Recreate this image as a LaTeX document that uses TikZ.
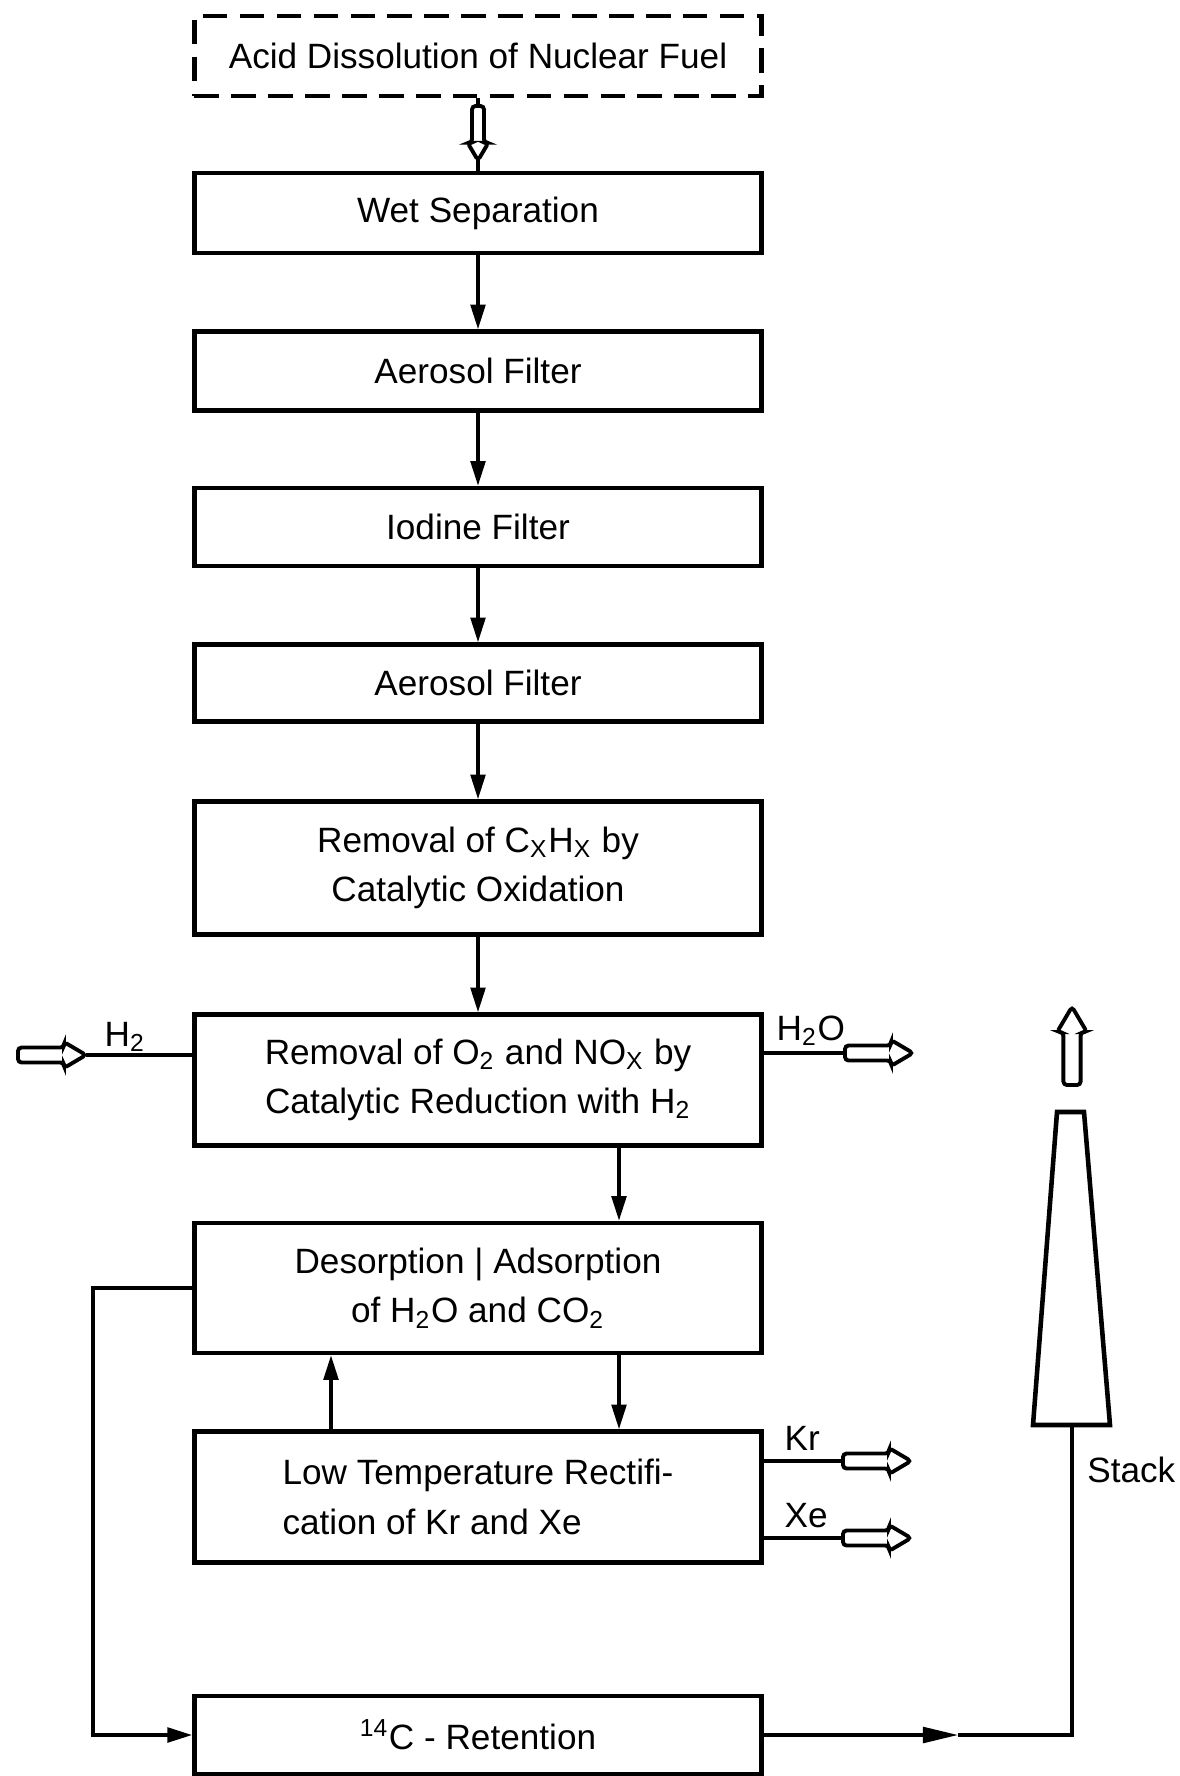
\documentclass[tikz,border=0pt]{standalone}
\usepackage{fontspec}
\setmainfont{Liberation Sans}
\usepackage{tikz}
\usetikzlibrary{arrows.meta, positioning, calc}

\begin{document}
\begin{tikzpicture}[x=0.01cm, y=-0.01cm,
    >={Triangle[length=7pt, width=4.2pt]},
    font=\fontsize{10}{14}\selectfont,
    unit/.style={draw, line width=1.3pt, minimum width=5.67cm,
                 inner sep=2pt, align=center},
    feed/.style={line width=0.9pt},
    lbl/.style={anchor=base west, inner sep=0pt},
    pics/hollow/.style={code={
      \draw[line width=1.1pt, rounded corners=1pt]
        (0,-7.5) -- (46,-7.5) -- (46,-13) -- (68,0) -- (46,13)
        -- (46,7.5) -- (0,7.5) -- cycle;
      \coordinate (-tail) at (0,0);
      \coordinate (-tip) at (68,0);
    }}]
  \useasboundingbox (0,0) rectangle (1180,1776);

  % process chain
  \node[unit, dash pattern=on 7pt off 3.5pt, minimum height=0.80cm]
    (acid) at (478,56) {Acid Dissolution of Nuclear Fuel};
  \node[unit, minimum height=0.80cm] (wet) at (478,213) {Wet Separation};
  \node[unit, minimum height=0.79cm] (aer1) at (478,371) {Aerosol Filter};
  \node[unit, minimum height=0.78cm] (iod) at (478,527) {Iodine Filter};
  \node[unit, minimum height=0.77cm] (aer2) at (478,683) {Aerosol Filter};
  \node[unit, minimum height=1.33cm] (cxhx) at (478,868)
    {Removal of C\textsubscript{X}H\textsubscript{X} by\\Catalytic Oxidation};
  \node[unit, minimum height=1.31cm] (red) at (478,1080)
    {Removal of O\textsubscript{2} and NO\textsubscript{X} by\\
     Catalytic Reduction with H\textsubscript{2}};
  \node[unit, minimum height=1.30cm] (des) at (478,1288)
    {Desorption | Adsorption\\of H\textsubscript{2}O and CO\textsubscript{2}};
  \node[unit, minimum height=1.31cm, align=left] (ltr) at (478,1497)
    {Low Temperature Rectifi-\\cation of Kr and Xe};
  \node[unit, minimum height=0.78cm] (c14) at (478,1735)
    {\textsuperscript{14}C - Retention};

  % feed from dissolver
  \pic[rotate=-90, scale=0.8] (feedin) at (478,106) {hollow};
  \draw[feed] (acid.south) -- (feedin-tail);
  \draw[feed] (feedin-tip) -- (wet.north);

  \foreach \a/\b in {wet/aer1, aer1/iod, iod/aer2, aer2/cxhx, cxhx/red}
    \draw[feed, ->] (\a) -- (\b);

  \coordinate (dcol) at (619,0);
  \coordinate (ucol) at (331,0);
  \draw[feed, ->] (red.south -| dcol) -- (des.north -| dcol);
  \draw[feed, ->] (des.south -| dcol) -- (ltr.north -| dcol);
  \draw[feed, ->] (ltr.north -| ucol) -- (des.south -| ucol);

  % hydrogen in, water out
  \pic (h2in) at (18,1055) {hollow};
  \draw[feed] (h2in-tip) -- (red.west |- h2in-tip);
  \node[lbl] (h2lbl) at (104,1046) {H\textsubscript{2}};
  \pic (h2oout) at (845,1053) {hollow};
  \draw[feed] (red.east |- h2oout-tail) -- (h2oout-tail);
  \node[lbl] (h2olbl) at (776,1040) {H\textsubscript{2}O};

  % noble gas products
  \foreach \g/\y in {Kr/1461, Xe/1538}{
    \pic (o\g) at (843,\y) {hollow};
    \draw[feed] (ltr.east |- o\g-tail) -- (o\g-tail);
    \node[lbl] (l\g) at (784,\y-11) {\g};
  }

  % loop to 14C retention and stack
  \coordinate (loopx) at (93,0);
  \draw[feed, ->] (des.west) -- (des.west -| loopx) -- (c14.west -| loopx)
    -- (c14.west);
  \coordinate (stackfoot) at (1072,1425);
  \coordinate (midarr) at (958,0);
  \draw[feed, -{Triangle[length=10pt, width=4.5pt]}]
    (c14.east) -- (c14.east -| midarr);
  \draw[feed] (c14.east -| midarr) -- (c14.east -| stackfoot) -- (stackfoot);

  \draw[line width=1.3pt] (1033,1425) -- (1057,1112) -- (1084,1112)
    -- (1110,1425) -- cycle;
  \pic[rotate=90, scale=1.15] (plume) at (1072,1085) {hollow};
  \node[anchor=east, inner sep=0pt] (stacklbl) at (1176,1470) {Stack};
\end{tikzpicture}
\end{document}
